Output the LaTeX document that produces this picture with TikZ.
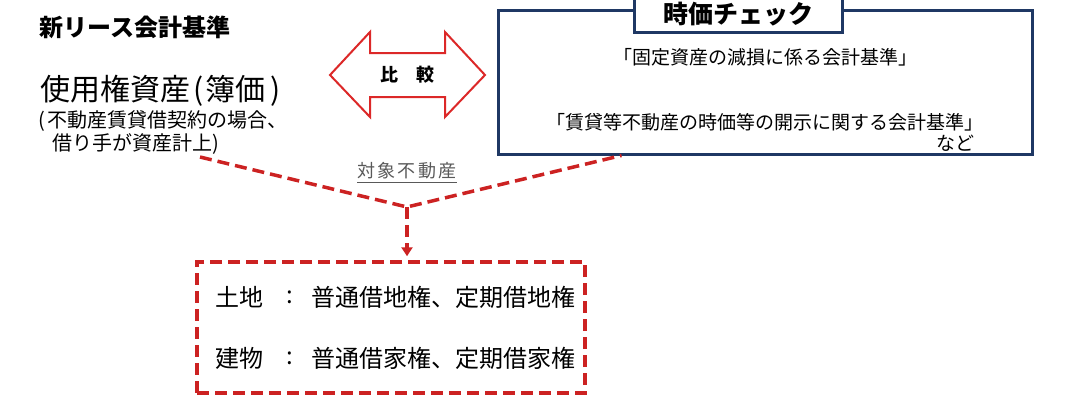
\documentclass[tikz,border=0pt]{standalone}
\usepackage{fontspec}
\setmainfont{Noto Sans CJK JP}
\newfontfamily\jpspaced[LetterSpace=12]{Noto Sans CJK JP}
\usetikzlibrary{arrows.meta}
\definecolor{navy}{HTML}{1F3864}
\definecolor{darkred}{HTML}{CC2222}
\definecolor{arrowred}{HTML}{DC2828}
\definecolor{textgray}{HTML}{595959}
\newcommand{\fsz}[2]{\fontsize{#1}{#2}\selectfont}
\tikzset{
  txt/.style={inner sep=0pt},
  reddash/.style={draw=darkred, line width=3.5pt, dash pattern=on 12pt off 6pt},
  navybox/.style={draw=navy, line width=3pt, fill=white}
}
\begin{document}
\begin{tikzpicture}[x=1pt,y=-1pt]
\useasboundingbox (0,0) rectangle (1070,408);

% left side
\node[txt,anchor=west,font=\fsz{24}{28}\bfseries] (lease) at (39,27) {新リース会計基準};
\node[txt,anchor=west,font=\fsz{30}{32}] (asset) at (40,91) {使用権資産\kern3pt(\kern2pt簿価\kern5pt)};
\node[txt,anchor=north west,align=left,font=\fsz{20}{23}] (note) at (38,110) {(\kern3pt不動産賃貸借契約の場合、\\\hspace{14pt}借り手が資産計上)};

% comparison arrow
\draw[arrowred, line width=2pt, fill=white] (330,75) -- (370,32) -- (370,53) -- (445,53) -- (445,32)
  -- (485,75) -- (445,117) -- (445,97) -- (370,97) -- (370,117) -- cycle;
\node[txt,font=\fsz{18}{20}\bfseries] (compare) at (407,75) {比　較};

% fair value box
\node[navybox, minimum width=534pt, minimum height=144pt] (check) at (765,82) {};
\node[navybox, minimum width=208pt, minimum height=40pt] (tab) at (738,12) {};
\node[txt,font=\fsz{25}{28}\bfseries] (tabtext) at (738,14) {時価チェック};
\node[txt,font=\fsz{19}{22}] (std1) at (765,57) {「固定資産の減損に係る会計基準」};
\node[txt,font=\fsz{19}{22}] (std2) at (765,122) {「賃貸等不動産の時価等の開示に関する会計基準」};
\node[txt,font=\fsz{19}{22}] (etc) at (955,143) {など};

% target property
\node[txt,font=\jpspaced\fsz{18}{20},text=textgray] (target) at (407,171) {対象不動産};
\draw[textgray, line width=1pt] ([yshift=-3pt]target.south west) -- ([yshift=-3pt]target.south east);

\node[reddash, minimum width=388pt, minimum height=131pt] (rights) at (391,327.5) {};
\node[txt,anchor=west,font=\fsz{24}{28}] (land) at (215,297) {土地};
\node[txt,font=\fsz{24}{28}] (landsep) at (290,297) {:};
\node[txt,anchor=west,font=\fsz{24}{28}] (landright) at (311,297) {普通借地権、定期借地権};
\node[txt,anchor=west,font=\fsz{24}{28}] (bldg) at (215,358) {建物};
\node[txt,font=\fsz{24}{28}] (bldgsep) at (290,358) {:};
\node[txt,anchor=west,font=\fsz{24}{28}] (bldgright) at (311,358) {普通借家権、定期借家権};

% connectors
\coordinate (leftend) at (200,157);
\coordinate (rightend) at ([xshift=125pt]check.south west);
\coordinate (join) at (407,207);
\draw[reddash] (leftend) -- (join) -- (rightend);
\draw[reddash, -{Triangle[length=9pt,width=11pt]}, shorten >=4pt] (join) -- (join |- rights.north);
\end{tikzpicture}
\end{document}
